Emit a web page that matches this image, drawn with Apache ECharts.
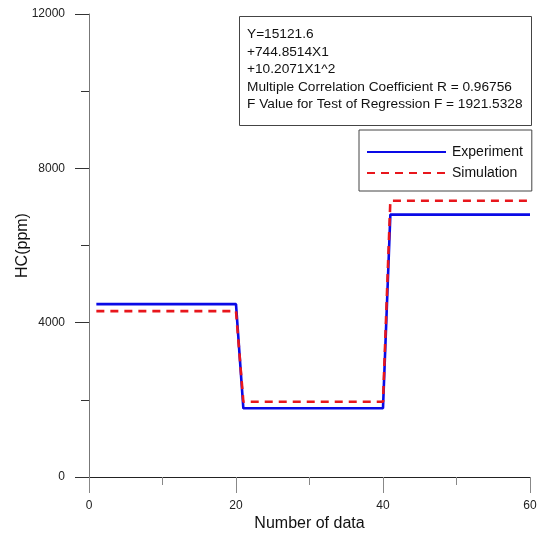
<!DOCTYPE html>
<html>
<head>
<meta charset="utf-8">
<script src="https://cdn.jsdelivr.net/npm/echarts@6/dist/echarts.min.js"></script>
<style>html,body{margin:0;padding:0;background:#fff}#c{width:538px;height:533px}</style>
</head>
<body>
<div id="c"></div>
<script>
// Data
const xPoints = [1, 20, 21, 40, 41, 60];
const experimentValues = [4480, 4480, 1780, 1780, 6800, 6800];
const simulationValues = [4300, 4300, 1950, 1950, 7160, 7160];
const seriesNames = ['Experiment', 'Simulation'];
const regressionLines = [
  'Y=15121.6',
  '+744.8514X1',
  '+10.2071X1^2',
  'Multiple Correlation Coefficient R = 0.96756',
  'F Value for Test of Regression F = 1921.5328'
];
const xAxisTitle = 'Number of data';
const yAxisTitle = 'HC(ppm)';

const font = '"Liberation Sans", Arial, sans-serif';
const chart = echarts.init(document.getElementById('c'), null, {renderer: 'canvas'});

function pairs(xs, ys) { return xs.map((x, i) => [x, ys[i]]); }

chart.setOption({
  animation: false,
  backgroundColor: '#fff',
  textStyle: {fontFamily: font},
  grid: {left: 89, right: 8, top: 14, bottom: 56, containLabel: false, outerBoundsMode: 'none'},
  xAxis: {
    type: 'value', min: 0, max: 60, interval: 20,
    name: xAxisTitle, nameLocation: 'middle', nameGap: 39, nameMoveOverlap: false,
    nameTextStyle: {fontSize: 16, color: '#111', fontFamily: font},
    axisLine: {show: true, onZero: false, lineStyle: {color: '#222', width: 1}},
    axisTick: {show: true, inside: false, length: 16, lineStyle: {color: '#888', width: 1}},
    minorTick: {show: true, splitNumber: 2, length: 8, lineStyle: {color: '#888', width: 1}},
    axisLabel: {margin: 23, fontSize: 12, color: '#222', fontFamily: font, formatter: v => String(v)},
    splitLine: {show: false}
  },
  yAxis: {
    type: 'value', min: 0, max: 12000, interval: 4000,
    name: yAxisTitle, nameLocation: 'middle', nameGap: 58, nameMoveOverlap: false,
    nameTextStyle: {fontSize: 16, color: '#111', fontFamily: font},
    axisLine: {show: true, lineStyle: {color: '#777', width: 1}},
    axisTick: {show: true, inside: false, length: 14, lineStyle: {color: '#333', width: 1}},
    minorTick: {show: true, splitNumber: 2, length: 8, lineStyle: {color: '#333', width: 1}},
    axisLabel: {margin: 24, fontSize: 12, color: '#222', fontFamily: font, formatter: v => String(v)},
    splitLine: {show: false}
  },
  legend: {
    orient: 'vertical', left: 359, top: 130,
    padding: [15, 9, 11, 7],
    itemWidth: 79, itemHeight: 14, itemGap: 7,
    borderColor: '#444', borderWidth: 1,
    itemStyle: {opacity: 0},
    textStyle: {fontSize: 14, color: '#111', fontFamily: font, padding: [0, 0, 0, 1]},
    data: seriesNames
  },
  series: [
    {
      name: seriesNames[0], type: 'line', data: pairs(xPoints, experimentValues),
      symbol: 'none', lineStyle: {color: '#0a0ae6', width: 2.6}, itemStyle: {color: '#0a0ae6'}, z: 2
    },
    {
      name: seriesNames[1], type: 'line', data: pairs(xPoints, simulationValues),
      symbol: 'none', lineStyle: {color: '#e8161c', width: 2.6, type: [8, 6]}, itemStyle: {color: '#e8161c'}, z: 3
    }
  ],
  graphic: [
    {
      type: 'rect', shape: {x: 239.5, y: 16.5, width: 292, height: 109},
      style: {fill: '#fff', stroke: '#444', lineWidth: 1}, z: 10
    },
    {
      type: 'text', x: 247, y: 25.5, z: 11,
      style: {text: regressionLines.join('\n'), font: '13.7px ' + font, fill: '#111', lineHeight: 17.6, verticalAlign: 'top'}
    }
  ]
});
</script>
</body>
</html>
